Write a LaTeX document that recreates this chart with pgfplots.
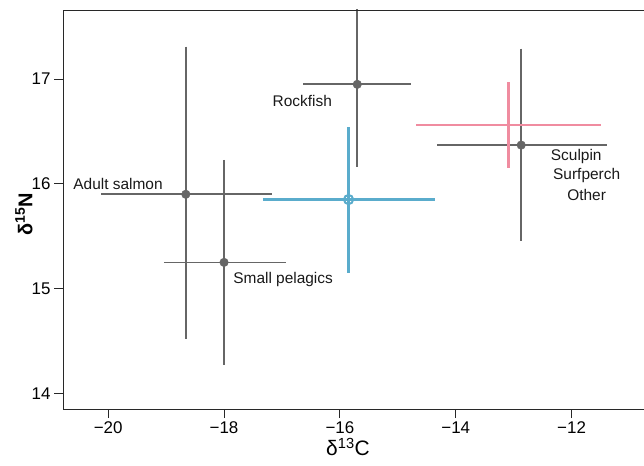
\documentclass[border=0pt]{standalone}
\usepackage{pgfplots}
\pgfplotsset{compat=1.18}
\usepackage{fontspec}
\setmainfont{Liberation Sans}
\usetikzlibrary{calc}
\definecolor{gr}{RGB}{102,102,102}
\definecolor{bl}{RGB}{90,172,204}
\definecolor{pk}{RGB}{240,140,160}
\definecolor{ax}{RGB}{40,40,40}
\begin{document}
\begin{tikzpicture}
\begin{axis}[
  scale only axis, width=581bp, height=399bp,
  xmin=-20.78, xmax=-10.75, ymin=13.85, ymax=17.66,
  axis lines*=left, axis line style={-, line width=0.9bp, color=ax},
  tick align=outside, major tick length=9bp,
  tick style={line width=0.9bp, color=ax},
  xtick={-20,-18,-16,-14,-12}, ytick={14,15,16,17},
  xticklabels={−20,−18,−16,−14,−12},
  yticklabels={14,15,16,17},
  tick label style={font=\fontsize{17}{20}\selectfont},
  clip mode=individual,
]
% Adult salmon
\addplot[gr, line width=1.7bp] coordinates {(-20.12,15.90) (-17.18,15.90)};
\addplot[gr, line width=1.7bp] coordinates {(-18.66,17.31) (-18.66,14.52)};
% Small pelagics
\addplot[gr, line width=1.7bp] coordinates {(-19.04,15.25) (-16.93,15.25)};
\addplot[gr, line width=1.7bp] coordinates {(-18.00,16.23) (-18.00,14.27)};
% Rockfish
\addplot[gr, line width=1.7bp] coordinates {(-16.63,16.95) (-14.77,16.95)};
\addplot[gr, line width=1.7bp] coordinates {(-15.70,17.75) (-15.70,16.16)};
% Sculpin / Surfperch / Other
\addplot[gr, line width=1.7bp] coordinates {(-14.32,16.37) (-11.39,16.37)};
\addplot[gr, line width=1.7bp] coordinates {(-12.87,17.29) (-12.87,15.45)};
% pink
\addplot[pk, line width=2.4bp] coordinates {(-14.68,16.56) (-11.50,16.56)};
\addplot[pk, line width=2.4bp] coordinates {(-13.09,16.97) (-13.09,16.15)};
% blue
\addplot[bl, line width=2.4bp] coordinates {(-17.33,15.85) (-14.36,15.85)};
\addplot[bl, line width=2.4bp] coordinates {(-15.85,16.54) (-15.85,15.15)};
% gray points
\addplot[only marks, mark=*, mark size=4.3bp, color=gr] coordinates {(-18.66,15.90) (-18.00,15.25) (-15.70,16.95) (-12.87,16.37)};
% blue open point
\addplot[only marks, mark=o, mark size=4.6bp, color=bl, line width=2bp] coordinates {(-15.85,15.85)};
% labels
\begin{scope}[every node/.style={font=\fontsize{15.5}{18}\selectfont, text=black!90}]
\node at (axis cs:-16.65,16.79) {Rockfish};
\node at (axis cs:-19.83,16.00) {Adult salmon};
\node at (axis cs:-16.98,15.09) {Small pelagics};
\node at (axis cs:-11.92,16.26) {Sculpin};
\node at (axis cs:-11.74,16.08) {Surfperch};
\node at (axis cs:-11.74,15.89) {Other};
\end{scope}
\coordinate (bl) at (rel axis cs:0,0);
\coordinate (tl) at (rel axis cs:0,1);
\coordinate (tr) at (rel axis cs:1,1);
\coordinate (ylab) at (axis cs:-20.78,15.71);
\coordinate (xlab) at (axis cs:-15.86,13.85);
\end{axis}
\draw[line width=0.9bp, color=ax] (tl) -- ($(tr)+(5bp,0)$);
\node[rotate=90, font=\fontsize{20}{24}\selectfont\bfseries] at ($(ylab)+(-39bp,0)$) {δ\textsuperscript{15}N};
\node[font=\fontsize{21}{24}\selectfont] at ($(xlab)+(0,-38bp)$) {δ\textsuperscript{13}C};
\pgfresetboundingbox
\path[use as bounding box] ($(bl)+(-63bp,-57bp)$) rectangle ($(tr)+(0,10bp)$);
\end{tikzpicture}
\end{document}
